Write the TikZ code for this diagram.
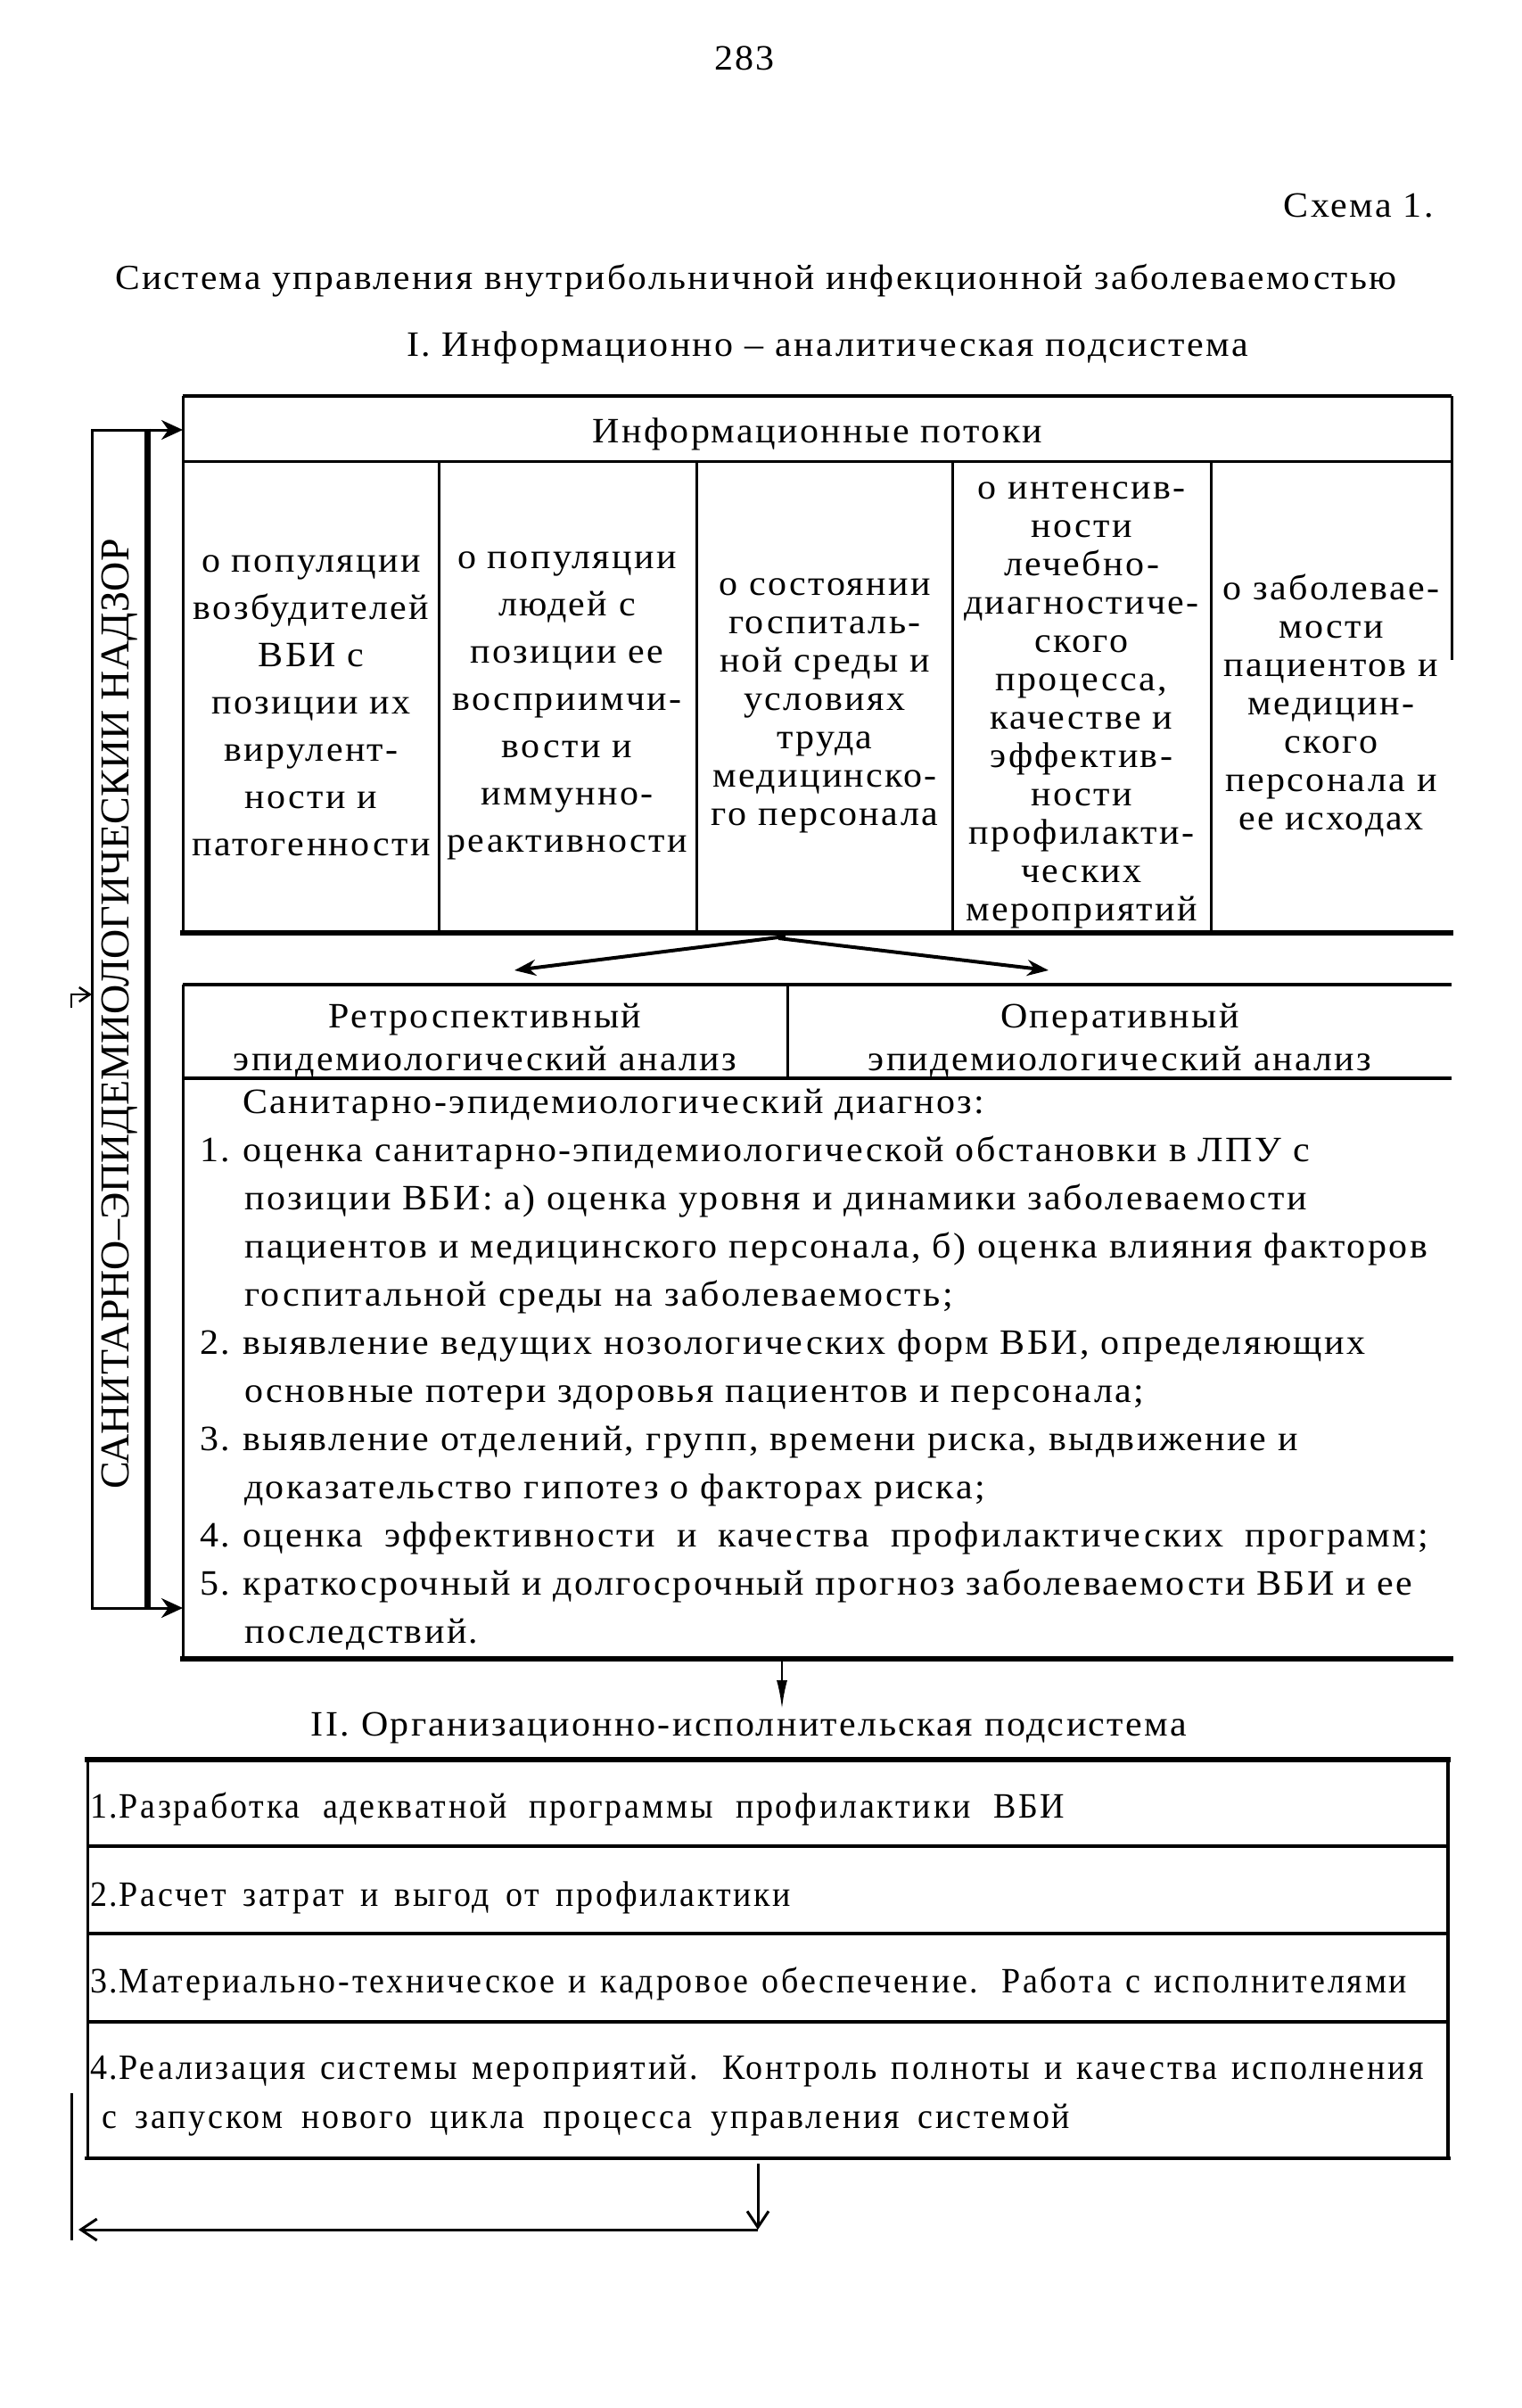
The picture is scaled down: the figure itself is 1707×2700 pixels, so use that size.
\documentclass[tikz,border=0pt]{standalone}
\usepackage{fontspec}
\setmainfont{Liberation Serif}
\newfontfamily\tf[FakeStretch=1.05,LetterSpace=6]{Liberation Serif}
\newfontfamily\bxf[FakeStretch=0.95,LetterSpace=7]{Liberation Serif}
\newfontfamily\rtf{Liberation Serif}
\usetikzlibrary{arrows.meta}
\begin{document}
\begin{tikzpicture}[x=1pt,y=-1pt,
  tx/.style={inner sep=0pt,font=\tf\fontsize{40}{43}\selectfont},
  coltx/.style={tx,align=center,font=\tf\fontsize{40}{43}\selectfont},
  colwide/.style={tx,align=center,font=\tf\fontsize{40}{53}\selectfont},
  hdtx/.style={tx,align=center,font=\tf\fontsize{40}{48}\selectfont},
  bxtx/.style={inner sep=0pt,font=\bxf\fontsize{40}{43}\selectfont},
  thinln/.style={line width=3pt},
  midln/.style={line width=4.5pt},
  thickln/.style={line width=6.5pt},
  sarr/.style={line width=3pt,-{Stealth[length=24pt,width=22pt]}},
  darr/.style={line width=4pt,-{Stealth[length=24pt,width=18pt]}},
  narr/.style={line width=2.5pt,-{Latex[length=32pt,width=12pt]}},
  oarr/.style={line width=3pt,-{Straight Barb[length=18pt,width=24pt,line width=3pt]}}
]
\useasboundingbox (0,0) rectangle (1707,2700);
\fill[white] (0,0) rectangle (1707,2700);

% ---------- page heading ----------
\node[tx,anchor=base] (pnum) at (835,79) {283};
\node[tx,anchor=base east] (schema) at (1608,243) {Схема 1.};
\node[tx,anchor=base,font=\tf\fontsize{39.5}{43}\selectfont] (title) at (848,324) {Система управления внутрибольничной инфекционной заболеваемостью};
\node[tx,anchor=base] (sub1) at (928,399) {I. Информационно – аналитическая подсистема};

% ---------- top table ----------
\draw[midln] (205,444) -- (1628,444);
\draw[thinln] (205,517) -- (1628,517);
\draw[thinln] (205,444) -- (205,1046);
\draw[thinln] (1628,444) -- (1628,740);
\foreach \xx in {492,781,1068,1358} \draw[thinln] (\xx,517) -- (\xx,1046);
\draw[thickln] (202,1046) -- (1630,1046);

\node[tx,anchor=base] (flows) at (917,496) {Информационные потоки};
\node[colwide] (c1) at (349,791) {о популяции\\возбудителей\\ВБИ с\\позиции их\\вирулент-\\ности и\\патогенности};
\node[colwide] (c2) at (636,791) {о популяции\\людей с\\позиции ее\\восприимчи-\\вости и\\иммунно-\\реактивности};
\node[coltx] (c3) at (925,791) {о состоянии\\госпиталь-\\ной среды и\\условиях\\труда\\медицинско-\\го персонала};
\node[coltx] (c4) at (1213,791) {о интенсив-\\ности\\лечебно-\\диагностиче-\\ского\\процесса,\\качестве и\\эффектив-\\ности\\профилакти-\\ческих\\мероприятий};
\node[coltx] (c5) at (1493,791) {о заболевае-\\мости\\пациентов и\\медицин-\\ского\\персонала и\\ее исходах};

% ---------- left supervision box ----------
\node[draw,thinln,minimum width=61pt,minimum height=1321pt,inner sep=0pt] (senbox) at (133.5,1142.5) {};
\draw[thickln] (senbox.north east) -- (senbox.south east);
\node[inner sep=0pt,rotate=90,font=\rtf\fontsize{46}{50}\selectfont] (sen) at (134,1137) {САНИТАРНО–ЭПИДЕМИОЛОГИЧЕСКИИ НАДЗОР};
\coordinate (senTop) at (165,482);
\coordinate (tabLeft) at (205,482);
\coordinate (senBot) at (165,1803);
\coordinate (diagLeft) at (205,1803);
\draw[sarr] (senTop) -- (tabLeft);
\draw[sarr] (senBot) -- (diagLeft);

% ---------- arrows to analyses ----------
\coordinate (tb1) at (881,1050);
\coordinate (tb2) at (873,1052);
\coordinate (toRetro) at (577,1088);
\coordinate (toOper) at (1176,1088);
\draw[darr] (tb1) -- (toRetro);
\draw[darr] (tb2) -- (toOper);

% ---------- analysis block ----------
\draw[midln] (205,1104) -- (1628,1104);
\draw[midln] (205,1209) -- (1628,1209);
\draw[thinln] (883,1104) -- (883,1209);
\draw[thinln] (205,1104) -- (205,1860);
\draw[thickln] (202,1860) -- (1630,1860);
\node[hdtx] (retro) at (544,1167) {Ретроспективный\\эпидемиологический анализ};
\node[hdtx] (oper) at (1256,1167) {Оперативный\\эпидемиологический анализ};

\node[tx,anchor=base west] (d0) at (272,1248) {Санитарно-эпидемиологический диагноз:};
\node[tx,anchor=base west] (n1) at (224,1302) {1.};
\node[tx,anchor=base west] (d1) at (272,1302) {оценка санитарно-эпидемиологической обстановки в ЛПУ с};
\node[tx,anchor=base west] (d2) at (274,1356) {позиции ВБИ: а) оценка уровня и динамики заболеваемости};
\node[tx,anchor=base west] (d3) at (274,1410) {пациентов и медицинского персонала, б) оценка влияния факторов};
\node[tx,anchor=base west] (d4) at (274,1464) {госпитальной среды на заболеваемость;};
\node[tx,anchor=base west] (n2) at (224,1518) {2.};
\node[tx,anchor=base west] (d5) at (272,1518) {выявление ведущих нозологических форм ВБИ, определяющих};
\node[tx,anchor=base west] (d6) at (274,1572) {основные потери здоровья пациентов и персонала;};
\node[tx,anchor=base west] (n3) at (224,1626) {3.};
\node[tx,anchor=base west] (d7) at (272,1626) {выявление отделений, групп, времени риска, выдвижение и};
\node[tx,anchor=base west] (d8) at (274,1680) {доказательство гипотез о факторах риска;};
\node[tx,anchor=base west] (n4) at (224,1734) {4.};
\node[tx,anchor=base west] (d9) at (272,1734) {\makebox[1330pt][s]{оценка эффективности и качества профилактических программ;}};
\node[tx,anchor=base west] (n5) at (224,1788) {5.};
\node[tx,anchor=base west] (d10) at (272,1788) {краткосрочный и долгосрочный прогноз заболеваемости ВБИ и ее};
\node[tx,anchor=base west] (d11) at (274,1842) {последствий.};

% ---------- to subsystem II ----------
\coordinate (diagBot) at (877,1863);
\node[tx,anchor=base] (sub2) at (840,1946) {II. Организационно-исполнительская подсистема};
\draw[narr] (diagBot) -- (877,1916);

% ---------- executive box ----------
\draw[thickln] (95,1973) -- (1627,1973);
\foreach \yy in {2070,2168,2267} \draw[midln] (98,\yy) -- (1624,\yy);
\draw[midln] (95,2420) -- (1627,2420);
\draw[thinln] (98,1973) -- (98,2420);
\draw[midln] (1624,1973) -- (1624,2420);
\node[bxtx,anchor=base west] (r1) at (101,2038) {\makebox[1093pt][s]{1.\hspace{1pt}Разработка адекватной программы профилактики ВБИ}};
\node[bxtx,anchor=base west] (r2) at (101,2137) {\makebox[786pt][s]{2.\hspace{1pt}Расчет затрат и выгод от профилактики}};
\node[bxtx,anchor=base west] (r3) at (101,2234) {\makebox[1477pt][s]{3.\hspace{1pt}Материально-техническое и кадровое обеспечение. Работа с исполнителями}};
\node[bxtx,anchor=base west] (r4) at (101,2331) {\makebox[1496pt][s]{4.\hspace{1pt}Реализация системы мероприятий. Контроль полноты и качества исполнения}};
\node[bxtx,anchor=base west] (r4b) at (114,2386) {\makebox[1086pt][s]{с запуском нового цикла процесса управления системой}};

% ---------- feedback loop ----------
\coordinate (execBot) at (850,2426);
\coordinate (loopCorner) at (850,2500);
\coordinate (loopLeft) at (88,2500);
\draw[oarr] (execBot) -- (loopCorner);
\draw[oarr] (loopCorner) -- (loopLeft);
\draw[thinln] (80,2347) -- (80,2512);
\coordinate (loopTop) at (80,1130);
\coordinate (senIn) at (103,1115);
\draw[line width=2.5pt,-{Straight Barb[length=12pt,width=16pt,line width=2.5pt]}] (loopTop) -- (80,1115) -- (senIn);
\end{tikzpicture}
\end{document}
